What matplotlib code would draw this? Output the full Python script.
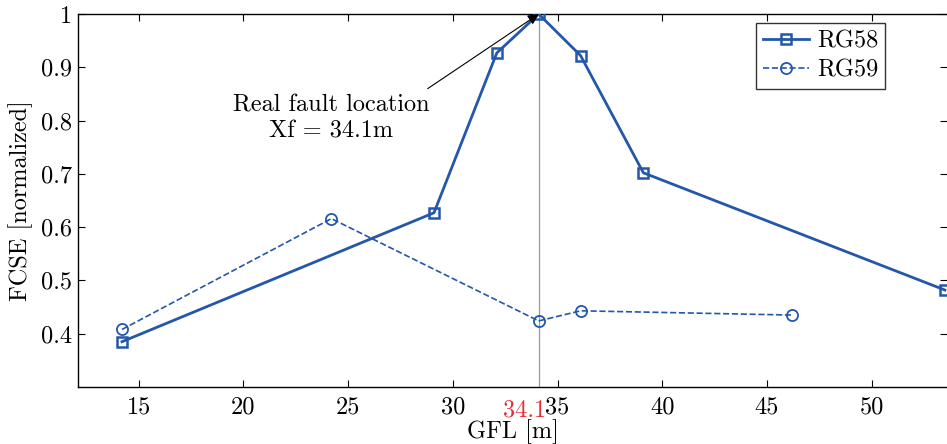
import matplotlib
matplotlib.use("Agg")
import matplotlib.pyplot as plt
import matplotlib.transforms as mtransforms

plt.rcParams['font.family'] = 'serif'
plt.rcParams['font.serif'] = ['cmr10', 'DejaVu Serif']
plt.rcParams['mathtext.fontset'] = 'cm'
plt.rcParams['axes.formatter.use_mathtext'] = True

rg58_x = [14.2, 29.1, 32.1, 34.1, 36.1, 39.1, 53.5]
rg58_y = [0.385, 0.627, 0.927, 1.0, 0.922, 0.702, 0.482]
rg59_x = [14.2, 24.2, 34.1, 36.1, 46.2]
rg59_y = [0.408, 0.616, 0.424, 0.443, 0.435]
fault_x = 34.1
xticks = [15, 20, 25, 30, 35, 40, 45, 50]
yticks = [0.4, 0.5, 0.6, 0.7, 0.8, 0.9, 1.0]
ytick_labels = ['0.4', '0.5', '0.6', '0.7', '0.8', '0.9', '1']

blue = '#2257ab'
fs = 17.5

fig = plt.figure(figsize=(9.47, 4.44), dpi=100)
ax = fig.add_axes([0.0824, 0.1284, 0.9176, 0.840])

ax.axvline(fault_x, color='#999999', lw=0.9, zorder=1)
ax.plot(rg58_x, rg58_y, '-s', color=blue, lw=2.0, ms=7, mfc='none', mew=1.8, label='RG58', zorder=3)
ax.plot(rg59_x, rg59_y, '--o', color=blue, lw=1.2, ms=8, mfc='none', mew=1.3, label='RG59', zorder=3)

ax.set_xlim(12.1, 53.6)
ax.set_ylim(0.3, 1.0)
ax.set_xticks(xticks)
ax.set_xticklabels([str(t) for t in xticks], fontsize=fs)
ax.set_yticks(yticks)
ax.set_yticklabels(ytick_labels, fontsize=fs)
ax.tick_params(direction='in', top=True, right=True, length=5, width=0.8)
ax.tick_params(axis='x', pad=7)
ax.tick_params(axis='y', pad=4)
ax.spines['right'].set_visible(False)
for s in ['left', 'bottom', 'top']:
    ax.spines[s].set_linewidth(1.0)

ax.text(fault_x, 0.3, '34.1', color='#e8303a', fontsize=fs, ha='center', va='top',
        clip_on=False,
        transform=mtransforms.offset_copy(ax.transData, fig=fig, x=-10, y=-9, units='points'))

ax.set_xlabel('GFL [m]', fontsize=fs, labelpad=0)
ax.set_ylabel('FCSE [normalized]', fontsize=fs, labelpad=6)

ax.text(24.2, 0.849, 'Real fault location\nXf = 34.1m', fontsize=fs, ha='center', va='top',
        multialignment='center', linespacing=1.2)
ax.annotate('', xy=(fault_x, 1.0), xytext=(28.8, 0.860),
            arrowprops=dict(arrowstyle='-|>', color='black', lw=0.8, shrinkA=0, shrinkB=0,
                            mutation_scale=16))

leg = ax.legend(loc='upper right', bbox_to_anchor=(0.929, 0.976), fontsize=fs, frameon=True,
                fancybox=False, edgecolor='black', handlelength=1.9, borderpad=0.3,
                labelspacing=0.3, handletextpad=0.3, borderaxespad=0)
leg.get_frame().set_linewidth(1.0)

fig.savefig('out.png', dpi=100)
